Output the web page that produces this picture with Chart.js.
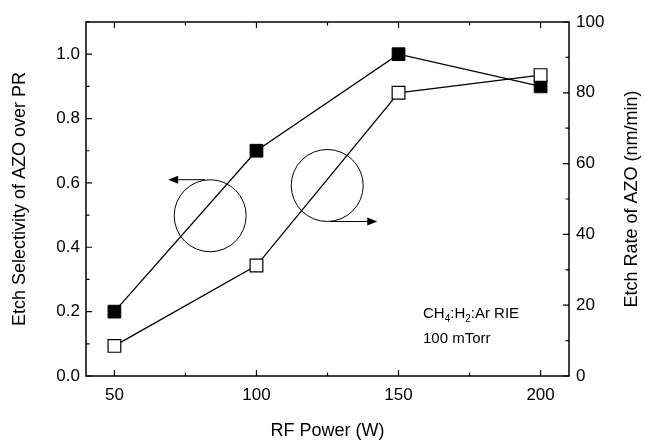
<!DOCTYPE html>
<html>
<head>
<meta charset="utf-8">
<script src="https://cdn.jsdelivr.net/npm/chart.js@4/dist/chart.umd.min.js"></script>
<style>
  html, body { margin: 0; padding: 0; background: #fff; }
  #wrap { width: 645px; height: 444px; position: relative; }
</style>
</head>
<body>
<div id="wrap"><canvas id="chart"></canvas></div>
<script>
// data
const rfPower = [50, 100, 150, 200];
const selectivity = [0.2, 0.7, 1.0, 0.9];      // left axis, filled squares
const etchRate = [8.5, 31.2, 80, 85];           // right axis (nm/min), open squares
const xTicks = [50, 100, 150, 200];
const leftTicks = [0.0, 0.2, 0.4, 0.6, 0.8, 1.0];
const rightTicks = [0, 20, 40, 60, 80, 100];

const FONT = 'Arial, "Liberation Sans", sans-serif';

// inside ticks on all four sides (major + minor), like the original plot
const frameTicks = {
  id: 'frameTicks',
  afterDraw(chart) {
    const ctx = chart.ctx;
    const x = chart.scales.x, y = chart.scales.y, y2 = chart.scales.y2;
    const a = chart.chartArea;
    ctx.save();
    ctx.strokeStyle = '#000';
    ctx.lineWidth = 1.5;
    ctx.strokeRect(a.left, a.top, a.right - a.left, a.bottom - a.top);
    ctx.lineWidth = 1.2;
    ctx.beginPath();
    for (let v = 50; v <= 200; v += 25) {
      const px = x.getPixelForValue(v);
      const len = (v % 50 === 0) ? 6 : 3.5;
      ctx.moveTo(px, a.bottom); ctx.lineTo(px, a.bottom - len);
      ctx.moveTo(px, a.top); ctx.lineTo(px, a.top + len);
    }
    for (let i = 0; i <= 11; i++) {
      const v = i / 10;
      const py = y.getPixelForValue(v);
      const len = (i % 2 === 0) ? 6 : 3.5;
      ctx.moveTo(a.left, py); ctx.lineTo(a.left + len, py);
    }
    for (let v = 0; v <= 100; v += 10) {
      const py = y2.getPixelForValue(v);
      const len = (v % 20 === 0) ? 6 : 3.5;
      ctx.moveTo(a.right, py); ctx.lineTo(a.right - len, py);
    }
    ctx.stroke();

    // right axis title reads bottom-to-top, same as the left one
    ctx.fillStyle = '#000';
    ctx.font = '18px ' + FONT;
    ctx.textAlign = 'center';
    ctx.textBaseline = 'middle';
    ctx.translate(632, (a.top + a.bottom) / 2);
    ctx.rotate(-Math.PI / 2);
    ctx.fillText('Etch Rate of AZO (nm/min)', 0, 0);
    ctx.restore();
  }
};

// the two circle-and-arrow markers plus the process note
const notes = {
  id: 'notes',
  afterDraw(chart) {
    const ctx = chart.ctx;
    const x = chart.scales.x, y = chart.scales.y;
    ctx.save();
    ctx.strokeStyle = '#000';
    ctx.fillStyle = '#000';
    ctx.lineWidth = 1;

    function circle(xv, yv, r) {
      ctx.beginPath();
      ctx.arc(x.getPixelForValue(xv), y.getPixelForValue(yv), r, 0, Math.PI * 2);
      ctx.stroke();
    }
    function arrow(x0, x1, yv) {
      const p0 = x.getPixelForValue(x0), p1 = x.getPixelForValue(x1);
      const py = y.getPixelForValue(yv);
      const dir = Math.sign(p1 - p0);
      ctx.beginPath();
      ctx.moveTo(p0, py); ctx.lineTo(p1 - dir * 8, py);
      ctx.stroke();
      ctx.beginPath();
      ctx.moveTo(p1, py);
      ctx.lineTo(p1 - dir * 10, py - 4);
      ctx.lineTo(p1 - dir * 10, py + 4);
      ctx.closePath();
      ctx.fill();
    }
    circle(83.7, 0.498, 36);
    arrow(81.9, 68.9, 0.61);
    circle(124.9, 0.592, 36);
    arrow(125.9, 142.5, 0.48);

    // CH4:H2:Ar RIE / 100 mTorr
    let px = 423, base = 318;
    const parts = [['CH', 0], ['4', 1], [':H', 0], ['2', 1], [':Ar RIE', 0]];
    parts.forEach(([t, sub]) => {
      ctx.font = (sub ? '10px ' : '15px ') + FONT;
      ctx.fillText(t, px, base + (sub ? 4 : 0));
      px += ctx.measureText(t).width;
    });
    ctx.font = '15px ' + FONT;
    ctx.fillText('100 mTorr', 423, 343);
    ctx.restore();
  }
};

new Chart(document.getElementById('chart'), {
  type: 'line',
  data: {
    datasets: [
      {
        label: 'Etch Rate',
        data: rfPower.map((p, i) => ({ x: p, y: etchRate[i] })),
        yAxisID: 'y2',
        borderColor: '#000',
        borderWidth: 1.3,
        backgroundColor: '#fff',
        pointStyle: 'rect',
        pointRadius: 9,
        pointBorderWidth: 1.2,
        pointBackgroundColor: '#fff',
        pointBorderColor: '#000',
        tension: 0,
        order: 0
      },
      {
        label: 'Selectivity',
        data: rfPower.map((p, i) => ({ x: p, y: selectivity[i] })),
        yAxisID: 'y',
        borderColor: '#000',
        borderWidth: 1.3,
        backgroundColor: '#000',
        pointStyle: 'rect',
        pointRadius: 9,
        pointBorderWidth: 1,
        pointBackgroundColor: '#000',
        pointBorderColor: '#000',
        tension: 0,
        order: 1
      }
    ]
  },
  options: {
    responsive: true,
    maintainAspectRatio: false,
    animation: false,
    layout: { padding: { top: 22, right: 0, bottom: 0, left: 0 } },
    plugins: { legend: { display: false }, tooltip: { enabled: false } },
    scales: {
      x: {
        type: 'linear',
        min: 40, max: 210,
        afterBuildTicks: s => { s.ticks = xTicks.map(v => ({ value: v })); },
        afterFit: s => { s.height = 68; },
        grid: { display: false, drawTicks: false },
        border: { display: false },
        ticks: { color: '#000', font: { family: FONT, size: 17 }, padding: 9 },
        title: { display: true, text: 'RF Power (W)', color: '#000',
                 font: { family: FONT, size: 18 }, padding: { top: 0, bottom: 2 } }
      },
      y: {
        position: 'left',
        min: 0, max: 1.1,
        afterBuildTicks: s => { s.ticks = leftTicks.map(v => ({ value: v })); },
        afterFit: s => { s.width = 86; },
        grid: { display: false, drawTicks: false },
        border: { display: false },
        ticks: { color: '#000', font: { family: FONT, size: 17 }, padding: 6,
                 callback: v => v.toFixed(1) },
        title: { display: true, text: 'Etch Selectivity of AZO over PR', color: '#000',
                 font: { family: FONT, size: 18 }, padding: { top: 9, bottom: 0 } }
      },
      y2: {
        position: 'right',
        min: 0, max: 100,
        afterBuildTicks: s => { s.ticks = rightTicks.map(v => ({ value: v })); },
        afterFit: s => { s.width = 76; },
        grid: { display: false, drawTicks: false },
        border: { display: false },
        ticks: { color: '#000', font: { family: FONT, size: 17 }, padding: 7 },
        title: { display: false }
      }
    }
  },
  plugins: [frameTicks, notes]
});
</script>
</body>
</html>
